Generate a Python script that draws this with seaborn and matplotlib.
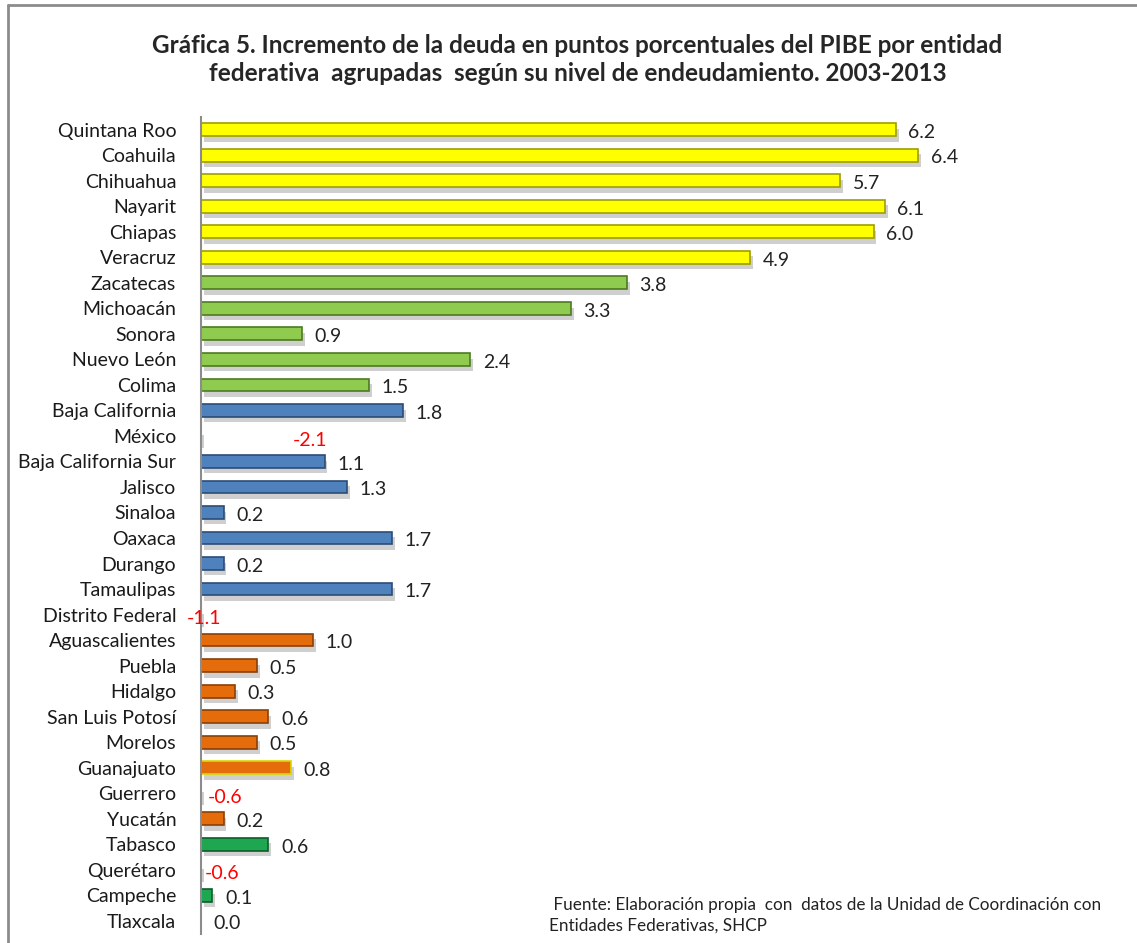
import matplotlib
matplotlib.use("Agg")
import matplotlib.pyplot as plt
import matplotlib.patheffects as pe
import seaborn as sns
import pandas as pd

states = ["Quintana Roo", "Coahuila", "Chihuahua", "Nayarit", "Chiapas", "Veracruz",
          "Zacatecas", "Michoacán", "Sonora", "Nuevo León", "Colima",
          "Baja California", "México", "Baja California Sur", "Jalisco", "Sinaloa",
          "Oaxaca", "Durango", "Tamaulipas", "Distrito Federal", "Aguascalientes",
          "Puebla", "Hidalgo", "San Luis Potosí", "Morelos", "Guanajuato", "Guerrero",
          "Yucatán", "Tabasco", "Querétaro", "Campeche", "Tlaxcala"]
values = [6.2, 6.4, 5.7, 6.1, 6.0, 4.9,
          3.8, 3.3, 0.9, 2.4, 1.5,
          1.8, -2.1, 1.1, 1.3, 0.2,
          1.7, 0.2, 1.7, -1.1, 1.0,
          0.5, 0.3, 0.6, 0.5, 0.8, -0.6,
          0.2, 0.6, -0.6, 0.1, 0.0]
groups = ["alto"] * 6 + ["medio"] * 5 + ["bajo"] * 8 + ["muy bajo"] * 8 + \
         ["muy bajo", "nulo", "nulo", "nulo", "nulo"]

df = pd.DataFrame({"estado": states, "valor": values, "grupo": groups})

# colours of each group (Excel-like)
face = {"alto": "#FFFF00", "medio": "#8FCB4E", "bajo": "#4F81BD",
        "muy bajo": "#E46C0A", "nulo": "#1FA650"}
edge = {"alto": "#9E9E00", "medio": "#4E7A22", "bajo": "#2C4D75",
        "muy bajo": "#8A4006", "nulo": "#0E5C2A"}
bar_face = [face[g] for g in groups]
bar_edge = [edge[g] for g in groups]
bar_face[states.index("Guanajuato")] = "#E46C0A"
bar_edge[states.index("Guanajuato")] = "#D8D800"
bar_face[states.index("Tlaxcala")] = "#D9D94A"

fig = plt.figure(figsize=(11.37, 9.43), dpi=100)
sns.set_style("white")
plt.rcParams["font.family"] = ["Lato", "DejaVu Sans"]

ax = fig.add_axes([0.177, 0.010, 0.818, 0.866])
sns.barplot(data=df, x="valor", y="estado", hue="estado", palette=bar_face,
            orient="h", width=0.5, saturation=1, legend=False, ax=ax)

for patch, ec in zip(ax.patches, bar_edge):
    patch.set_edgecolor(ec)
    patch.set_linewidth(1.2)
    patch.set_path_effects([pe.SimplePatchShadow(offset=(2, -4), shadow_rgbFace="#888888", alpha=0.4),
                            pe.Normal()])

ax.set_xlim(0, 8.3)
ax.set_ylim(len(states) - 0.5, -0.5)
ax.set_xlabel("")
ax.set_ylabel("")
ax.set_xticks([])
ax.tick_params(axis="y", length=0, pad=18, labelsize=14, labelcolor="#1a1a1a")
for s in ["top", "right", "bottom"]:
    ax.spines[s].set_visible(False)
ax.spines["left"].set_color("#8c8c8c")
ax.spines["left"].set_linewidth(1.5)

# where Excel dropped the labels of the clipped negative bars
neg_label_x = {"México": 0.82, "Distrito Federal": -0.13, "Guerrero": 0.06, "Querétaro": 0.03}

for i, (st, v) in enumerate(zip(states, values)):
    if v < 0:
        ax.annotate(f"{v:.1f}", xy=(neg_label_x[st], i), xytext=(0, -3),
                    textcoords="offset points", ha="left", va="center",
                    fontsize=14, color="#FF0000", annotation_clip=False)
    else:
        ax.annotate(f"{v:.1f}", xy=(v, i), xytext=(9, -2),
                    textcoords="offset points", ha="left", va="center",
                    fontsize=14, color="#222222")

fig.text(0.508, 0.937, "Gráfica 5. Incremento de la deuda en puntos porcentuales del PIBE por entidad\n"
         "federativa  agrupadas  según su nivel de endeudamiento. 2003-2013",
         ha="center", va="center", fontsize=17.5, fontweight="bold", linespacing=1.25)

fig.text(0.483, 0.029, " Fuente: Elaboración propia  con  datos de la Unidad de Coordinación con\n"
         "Entidades Federativas, SHCP", ha="left", va="center", fontsize=12.3,
         linespacing=1.35, color="#222222")

# outer frame of the chart area
fig.add_artist(plt.Line2D([0.007, 0.007], [0.0, 0.995], color="#8c8c8c", lw=2))
fig.add_artist(plt.Line2D([0.007, 1.0], [0.995, 0.995], color="#8c8c8c", lw=2))

fig.savefig("out.png", dpi=100)
